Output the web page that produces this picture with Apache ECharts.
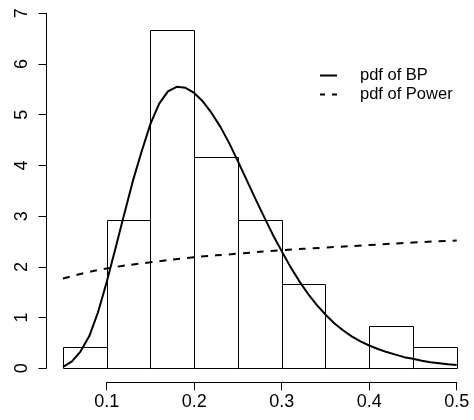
<!DOCTYPE html>
<html>
<head>
<meta charset="utf-8">
<script src="https://cdn.jsdelivr.net/npm/echarts@6/dist/echarts.min.js"></script>
<style>
html,body{margin:0;padding:0;background:#fff;}
#c{width:474px;height:420px;}
</style>
</head>
<body>
<div id="c"></div>
<script>
// Histogram bins (edges) and density heights
var binEdges = [0.05, 0.10, 0.15, 0.20, 0.25, 0.30, 0.35, 0.40, 0.45, 0.50];
var binDensity = [0.42, 2.92, 6.67, 4.17, 2.92, 1.67, 0, 0.83, 0.42];

// pdf of BP (solid curve)
var bpX = [0.05,0.06,0.07,0.08,0.09,0.10,0.11,0.12,0.13,0.14,0.15,0.16,0.17,0.18,0.19,0.20,0.21,0.22,0.23,0.24,0.25,0.26,0.27,0.28,0.29,0.30,0.31,0.32,0.33,0.34,0.35,0.36,0.37,0.38,0.39,0.40,0.41,0.42,0.43,0.44,0.45,0.46,0.47,0.48,0.49,0.50];
var bpY = [0.03,0.13,0.33,0.63,1.10,1.70,2.36,3.04,3.70,4.28,4.82,5.22,5.46,5.55,5.53,5.43,5.26,5.03,4.76,4.44,4.08,3.71,3.34,2.98,2.63,2.31,2.00,1.72,1.47,1.25,1.06,0.89,0.75,0.63,0.53,0.45,0.38,0.32,0.27,0.22,0.19,0.15,0.12,0.10,0.08,0.065];

// pdf of Power (dashed curve)
var powX = [0.05, 0.075, 0.10, 0.15, 0.20, 0.25, 0.30, 0.35, 0.40, 0.45, 0.50];
var powY = [1.77, 1.88, 1.97, 2.09, 2.19, 2.26, 2.33, 2.38, 2.43, 2.48, 2.52];

// Axis ticks
var xTicks = [0.1, 0.2, 0.3, 0.4, 0.5];
var yTicks = [0, 1, 2, 3, 4, 5, 6, 7];

// Legend labels
var legendNames = ['pdf of BP', 'pdf of Power'];

var FONT = '"Liberation Sans", Arial, Helvetica, sans-serif';

var histData = [];
for (var i = 0; i < binDensity.length; i++) {
  histData.push([binEdges[i], binEdges[i + 1], binDensity[i]]);
}
var bpData = bpX.map(function (x, i) { return [x, bpY[i]]; });
var powData = powX.map(function (x, i) { return [x, powY[i]]; });

var chart = echarts.init(document.getElementById('c'), null, {renderer: 'canvas'});
chart.setOption({
  backgroundColor: '#fff',
  animation: false,
  grid: [
    // data grid: x from first bin edge to last
    {left: 62.95, right: 17.3, top: 13.3, bottom: 51.7, containLabel: false, outerBoundsMode: 'none'},
    // axis grid for the x axis (spans first to last tick only)
    {left: 106.7, right: 17.3, top: 13.3, bottom: 51.7, containLabel: false, outerBoundsMode: 'none'}
  ],
  xAxis: [
    {
      gridIndex: 0, type: 'value', min: binEdges[0], max: binEdges[binEdges.length - 1],
      show: false, splitLine: {show: false}
    },
    {
      gridIndex: 1, type: 'value', min: xTicks[0], max: xTicks[xTicks.length - 1], interval: 0.1,
      position: 'bottom', offset: 14,
      splitLine: {show: false},
      axisLine: {show: true, onZero: false, lineStyle: {color: '#000', width: 1}},
      axisTick: {show: true, length: 8, lineStyle: {color: '#000', width: 1}},
      axisLabel: {color: '#000', fontFamily: FONT, fontSize: 18, margin: 11,
        formatter: function (v) { return v.toFixed(1); }}
    }
  ],
  yAxis: [
    {
      gridIndex: 0, type: 'value', min: yTicks[0], max: yTicks[yTicks.length - 1], interval: 1,
      position: 'left', offset: 16.45,
      splitLine: {show: false},
      axisLine: {show: true, onZero: false, lineStyle: {color: '#000', width: 1}},
      axisTick: {show: true, length: 8, lineStyle: {color: '#000', width: 1}},
      axisLabel: {color: '#000', fontFamily: FONT, fontSize: 18, rotate: 90, margin: 15}
    },
    {
      gridIndex: 1, type: 'value', min: yTicks[0], max: yTicks[yTicks.length - 1],
      show: false, splitLine: {show: false}
    }
  ],
  graphic: [
    {type: 'line', shape: {x1: 320, y1: 75.5, x2: 337, y2: 75.5}, style: {stroke: '#000', lineWidth: 2}},
    {type: 'line', shape: {x1: 320, y1: 94.5, x2: 337, y2: 94.5}, style: {stroke: '#000', lineWidth: 2, lineDash: [5, 7]}},
    {type: 'text', x: 360, y: 75, style: {text: legendNames[0], fontFamily: FONT, fontSize: 16.5, fill: '#000', verticalAlign: 'middle', textAlign: 'left'}},
    {type: 'text', x: 360, y: 94, style: {text: legendNames[1], fontFamily: FONT, fontSize: 16.5, fill: '#000', verticalAlign: 'middle', textAlign: 'left'}}
  ],
  series: [
    {
      type: 'custom',
      name: 'hist',
      xAxisIndex: 0, yAxisIndex: 0,
      clip: false,
      silent: true,
      data: histData,
      encode: {x: [0, 1], y: 2},
      renderItem: function (params, api) {
        var p0 = api.coord([api.value(0), 0]);
        var p1 = api.coord([api.value(1), api.value(2)]);
        return {
          type: 'rect',
          shape: {x: Math.round(p0[0]) + 0.5, y: Math.round(p1[1]) + 0.5,
                  width: Math.round(p1[0]) - Math.round(p0[0]),
                  height: Math.round(p0[1]) - Math.round(p1[1])},
          style: {fill: 'none', stroke: '#000', lineWidth: 1}
        };
      }
    },
    {
      type: 'line', name: legendNames[0], data: bpData, smooth: false, clip: false,
      xAxisIndex: 0, yAxisIndex: 0,
      symbol: 'none', showSymbol: false, silent: true,
      lineStyle: {color: '#000', width: 2, type: 'solid'},
      itemStyle: {color: '#000'}
    },
    {
      type: 'line', name: legendNames[1], data: powData, smooth: true, clip: false,
      xAxisIndex: 0, yAxisIndex: 0,
      symbol: 'none', showSymbol: false, silent: true,
      lineStyle: {color: '#000', width: 2, type: [7, 7]},
      itemStyle: {color: '#000'}
    }
  ]
});
</script>
</body>
</html>
